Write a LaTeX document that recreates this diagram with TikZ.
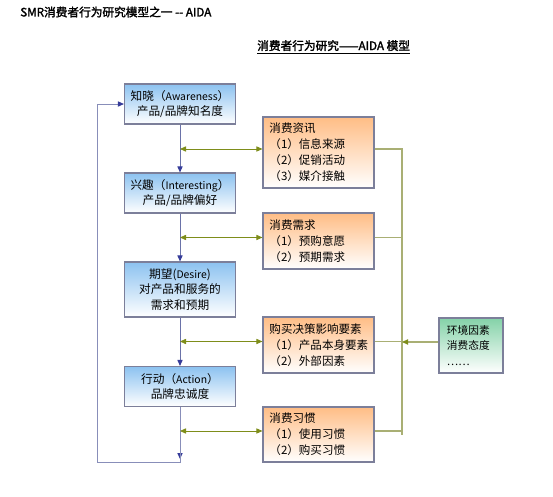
\documentclass[tikz,border=0pt]{standalone}
\usepackage{fontspec}
\setmainfont{Noto Sans CJK SC}[BoldFont={Noto Sans CJK SC}, BoldFeatures={FakeBold=2}]
\usetikzlibrary{positioning,arrows.meta,calc}
\definecolor{edge}{HTML}{7C7F9A}
\definecolor{stagec}{HTML}{8CC2F0}
\definecolor{factorc}{HTML}{FFBD85}
\definecolor{envc}{HTML}{84D2A8}
\definecolor{spine}{HTML}{6A72A8}
\definecolor{tipc}{HTML}{363C9A}
\definecolor{olive}{HTML}{7E8D1A}
\definecolor{busc}{HTML}{A9AF74}
\newcommand{\lat}[1]{{\fontsize{7.4}{10}\selectfont #1}}

\begin{document}
\begin{tikzpicture}[
  x=0.025cm, y=-0.025cm, font=\fontsize{8.3}{10.8}\selectfont,
  box/.style={draw=edge, line width=0.8pt, inner sep=0pt, minimum width=2.775cm},
  stg/.style={box, top color=stagec, bottom color=white, align=center, minimum height=1cm},
  fac/.style={box, top color=factorc, bottom color=white, text width=2.45cm, align=left,
              inner xsep=0.1625cm, font=\fontsize{8.2}{11.3}\selectfont},
  envb/.style={box, top color=envc, bottom color=white, text width=1.2cm, align=left,
               minimum width=1.6cm, inner xsep=0.2cm, minimum height=1.375cm,
               font=\fontsize{7.6}{11.3}\selectfont},
  vtip/.style={-{Triangle[length=1.5mm,width=1.3mm,color=tipc]}},
  down/.style={vtip, draw=spine, line width=0.7pt},
  back/.style={vtip, draw=spine!80, line width=0.7pt},
  otip/.tip={Triangle[length=1.5mm,width=1.3mm,color=olive]},
  link/.style={otip-otip, draw=olive, line width=0.6pt},
  bus/.style={draw=busc, line width=0.8pt},
]
\useasboundingbox (0,0) rectangle (553,496);
% -- titles
\node[font=\fontsize{8.3}{10}\selectfont\bfseries, anchor=west, inner sep=0pt] (head) at (20,12) {SMR消费者行为研究模型之一 -{}- AIDA};
\node[font=\fontsize{8.3}{10}\selectfont\bfseries, anchor=west, inner sep=0pt] (title) at (257,47) {\underline{消费者行为研究——AIDA 模型}};
% -- AIDA stages (left column)
\node[stg] (aware) at (180,104) {知晓（\lat{Awareness}）\\产品/品牌知名度};
\node[stg] (interest) at (180,193) {兴趣（\lat{Interesting}）\\产品/品牌偏好};
\node[stg, minimum height=1.375cm] (desire) at (180,289.5) {期望(\lat{Desire})\\对产品和服务的\\需求和预期};
\node[stg] (action) at (180,386.5) {行动（\lat{Action}）\\品牌忠诚度};
% -- influencing factors (middle column)
\node[fac, minimum height=1.775cm] (info) at (318.5,152.5) {消费资讯\\（1）信息来源\\（2）促销活动\\（3）媒介接触};
\node[fac, minimum height=1.4cm] (need) at (318.5,241) {消费需求\\（1）预购意愿\\（2）预期需求};
\node[fac, minimum height=1.4cm] (decide) at (318.5,345) {购买决策影响要素\\（1）产品本身要素\\（2）外部因素};
\node[fac, minimum height=1.375cm] (habit) at (318.5,434.5) {消费习惯\\（1）使用习惯\\（2）购买习惯};
% -- environment (right)
\node[envb] (env) at (471,345.5) {环境因素\\消费态度\\……};
\coordinate (busx) at (402,0);
\coordinate (loopend) at (180,462);
\coordinate (loopx) at (97,462);
% -- flows
\draw[down] (aware) -- (interest);
\draw[down] (interest) -- (desire);
\draw[down] (desire) -- (action);
\draw[down] (action) -- ($(loopend)+(0,-3)$);
\draw[back] (action.south) -- (loopend) -- (loopx) |- (aware.west);
\draw[link] ([yshift=2.5pt]info.west -| aware.south) -- ([yshift=2.5pt]info.west);
\draw[link] ([yshift=2.5pt]need.west -| aware.south) -- ([yshift=2.5pt]need.west);
\draw[link] ([yshift=2.5pt]decide.west -| aware.south) -- ([yshift=2.5pt]decide.west);
\draw[link] ([yshift=2.5pt]habit.west -| aware.south) -- ([yshift=2.5pt]habit.west);
\draw[bus] ([yshift=2.5pt]info.east) -| (busx |- habit.east) ++(0,2.5pt) -- ([yshift=2.5pt]habit.east);
\draw[bus] ([yshift=2.5pt]need.east) -- ([yshift=2.5pt]need.east -| busx);
\draw[bus] ([yshift=2.5pt]decide.east) -- ([yshift=2.5pt]decide.east -| busx);
\draw[bus, -otip] ([yshift=2.5pt]env.west) -- ([yshift=2.5pt]env.west -| busx);
\end{tikzpicture}
\end{document}
